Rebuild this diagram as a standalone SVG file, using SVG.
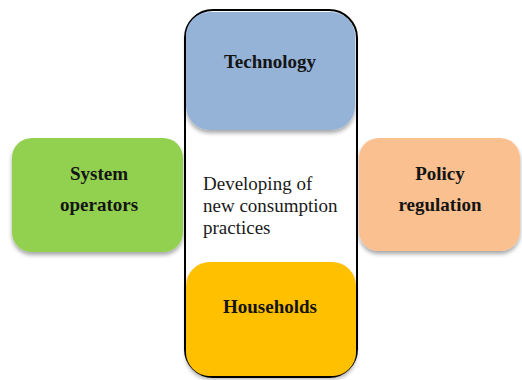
<svg xmlns="http://www.w3.org/2000/svg" width="522" height="380" viewBox="0 0 522 380">
<style>
.lbl{font-family:"Liberation Serif","Times New Roman",serif;font-size:19px;font-weight:bold;fill:#141414;text-anchor:middle}
.mid{font-family:"Liberation Serif","Times New Roman",serif;font-size:19px;fill:#1a1a1a}
.box{filter:url(#sh)}
</style>
<defs>
<filter id="sh" x="-10%" y="-10%" width="120%" height="125%">
<feGaussianBlur in="SourceAlpha" stdDeviation="2"/>
<feOffset dx="0" dy="3" result="b"/>
<feComponentTransfer><feFuncA type="linear" slope="0.35"/></feComponentTransfer>
<feMerge><feMergeNode/><feMergeNode in="SourceGraphic"/></feMerge>
</filter>
</defs>
<rect width="522" height="380" fill="#ffffff"/>
<g id="center">
<rect x="185" y="10" width="172" height="367" rx="28" fill="#ffffff" stroke="#000" stroke-width="2"/>
<text class="mid" x="203" y="190">Developing of</text>
<text class="mid" x="203" y="212">new consumption</text>
<text class="mid" x="203" y="234">practices</text>
</g>
<g id="technology">
<rect class="box" x="186" y="12" width="169" height="118" rx="24" fill="#95b3d7"/>
<text class="lbl" x="270" y="68">Technology</text>
</g>
<g id="households">
<rect class="box" x="186" y="262" width="170" height="114" rx="24" fill="#ffc000"/>
<text class="lbl" x="270" y="313">Households</text>
</g>
<g id="system-operators">
<rect class="box" x="12" y="138" width="171" height="114" rx="20" fill="#92d050"/>
<text class="lbl" x="99" y="180">System</text>
<text class="lbl" x="99" y="211">operators</text>
</g>
<g id="policy-regulation">
<rect class="box" x="359" y="138" width="161" height="113" rx="20" fill="#fac090"/>
<text class="lbl" x="440" y="180">Policy</text>
<text class="lbl" x="440" y="211">regulation</text>
</g>
<g id="connectors"></g>
</svg>
